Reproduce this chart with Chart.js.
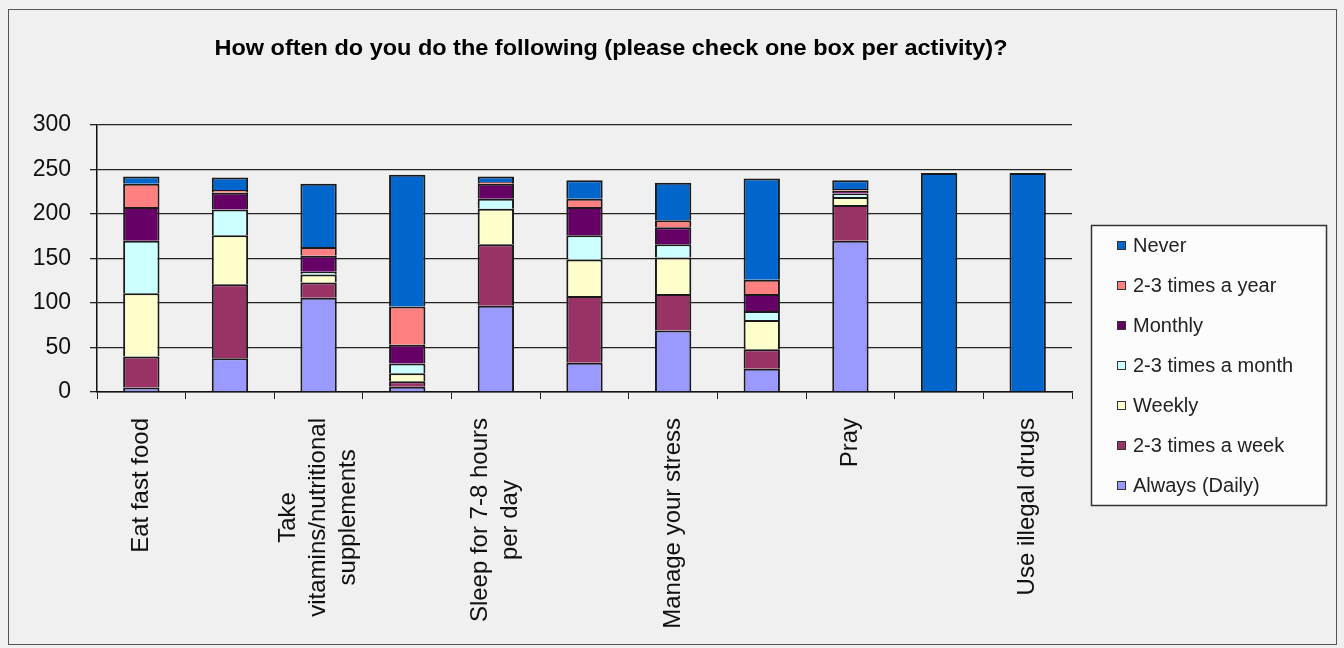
<!DOCTYPE html>
<html>
<head>
<meta charset="utf-8">
<script src="https://cdn.jsdelivr.net/npm/chart.js@4.4.1/dist/chart.umd.min.js"></script>
<style>
    html, body { margin: 0; padding: 0; background: #f0f0f0; }
    #wrap { width: 1344px; height: 648px; }
</style>
</head>
<body>
<div id="wrap"><canvas id="barcanvas" width="1344" height="648"></canvas></div>
<script>
// categories (Excel only printed every other label)
var categories = [
    ['Eat fast food'],
    [''],
    ['Take', 'vitamins/nutritional', 'supplements'],
    [''],
    ['Sleep for 7-8 hours', 'per day'],
    [''],
    ['Manage your stress'],
    [''],
    ['Pray'],
    [''],
    ['Use illegal drugs']
];
var seriesNames = ['Always (Daily)', '2-3 times a week', 'Weekly', '2-3 times a month', 'Monthly', '2-3 times a year', 'Never'];
var always = [5, 38, 106, 6, 97, 33, 69, 26, 170, null, null];
var timesWeek = [35, 83, 17, 6, 69, 75, 41, 22, 40, null, null];
var weekly = [71, 55, 9, 9, 40, 41, 41, 33, 9, null, null];
var timesMonth = [59, 29, 3, 11, 11, 27, 15, 10, 4, null, null];
var monthly = [38, 19, 18, 21, 17, 32, 19, 19, 3, null, null];
var timesYear = [26, 3, 10, 43, 2, 9, 8, 16, 2, null, null];
var never = [8, 14, 71, 148, 6, 21, 42, 114, 10, 246, 246];
var yTicks = [0, 50, 100, 150, 200, 250, 300];
var chartTitle = 'How often do you do the following (please check one box per activity)?';

var seriesValues = [always, timesWeek, weekly, timesMonth, monthly, timesYear, never];
var seriesColors = ['#9999ff', '#993366', '#ffffcc', '#ccffff', '#660066', '#ff8080', '#0066cc'];

var datasets = seriesNames.map((name, i) => {
    return {
        label: name,
        data: seriesValues[i],
        backgroundColor: seriesColors[i],
        borderColor: '#1a1a1a',
        borderWidth: 2,
        barPercentage: 0.41,
        categoryPercentage: 1.0
    };
});

var barChartData = {
    labels: categories,
    datasets: datasets
};

// background, frame, title, rotated x labels and boxed legend
var excelLook = {
    id: 'excelLook',
    beforeDraw: (chart) => {
        var ctx = chart.ctx;
        ctx.save();
        ctx.fillStyle = '#f0f0f0';
        ctx.fillRect(0, 0, chart.width, chart.height);
        ctx.strokeStyle = '#555';
        ctx.lineWidth = 1;
        ctx.strokeRect(8.5, 9.5, 1328, 635);
        ctx.restore();
    },
    afterDraw: (chart) => {
        var ctx = chart.ctx;
        var xScale = chart.scales.x;
        ctx.save();

        // title squeezed to the width Excel gave it
        ctx.fillStyle = '#000';
        ctx.font = 'bold 22px Arial, "Liberation Sans", sans-serif';
        ctx.textAlign = 'center';
        ctx.textBaseline = 'middle';
        var tw = ctx.measureText(chartTitle).width;
        ctx.save();
        ctx.translate(611, 49);
        ctx.scale(793 / tw, 1);
        ctx.fillText(chartTitle, 0, 0);
        ctx.restore();

        // category labels, read bottom to top, lines centred on each other
        ctx.font = '24px Arial, "Liberation Sans", sans-serif';
        ctx.fillStyle = '#111';
        var lineStep = 30;
        categories.forEach((lines, i) => {
            var cx = xScale.getPixelForValue(i);
            var maxW = 0;
            lines.forEach((l) => { maxW = Math.max(maxW, ctx.measureText(l).width); });
            ctx.save();
            ctx.translate(cx, xScale.top + 26);
            ctx.rotate(-Math.PI / 2);
            ctx.textAlign = 'center';
            ctx.textBaseline = 'middle';
            lines.forEach((l, j) => {
                ctx.fillText(l, -maxW / 2, (j - (lines.length - 1) / 2) * lineStep);
            });
            ctx.restore();
        });

        // legend box
        var lx = 1091, ly = 225, lw = 235, lh = 280;
        ctx.fillStyle = '#fcfcfc';
        ctx.fillRect(lx, ly, lw, lh);
        ctx.strokeStyle = '#333';
        ctx.lineWidth = 1.5;
        ctx.strokeRect(lx + 0.5, ly + 0.5, lw, lh);
        ctx.lineWidth = 1;
        ctx.font = '20px Arial, "Liberation Sans", sans-serif';
        ctx.textAlign = 'left';
        ctx.textBaseline = 'middle';
        for (var k = 0; k < seriesNames.length; k++) {
            var idx = seriesNames.length - 1 - k;
            var iy = 245 + k * 40;
            ctx.fillStyle = seriesColors[idx];
            ctx.fillRect(1117, iy - 4, 9, 9);
            ctx.strokeStyle = '#333';
            ctx.strokeRect(1117.5, iy - 3.5, 8, 8);
            ctx.fillStyle = '#222';
            ctx.fillText(seriesNames[idx], 1133, iy + 1);
        }
        ctx.restore();
    }
};

var options = {
    responsive: false,
    animation: false,
    layout: {
        padding: { left: 10, top: 125, right: 272, bottom: 16 }
    },
    plugins: {
        legend: { display: false },
        title: { display: false },
        tooltip: { enabled: false }
    },
    scales: {
        x: {
            stacked: true,
            offset: true,
            grid: {
                offset: true,
                drawOnChartArea: false,
                drawTicks: true,
                tickLength: 7,
                color: '#222'
            },
            border: { color: '#111', width: 1.5 },
            ticks: {
                autoSkip: false,
                maxRotation: 0,
                color: 'rgba(0,0,0,0)',
                callback: () => ''
            },
            afterFit: (scale) => { scale.height = 240; }
        },
        y: {
            stacked: true,
            min: 0,
            max: 300,
            afterBuildTicks: (scale) => {
                scale.ticks = yTicks.map((v) => { return { value: v }; });
            },
            grid: {
                color: '#222',
                lineWidth: 1.3,
                tickLength: 7
            },
            border: { color: '#111', width: 1.5 },
            ticks: {
                padding: 19,
                color: '#111',
                font: { family: 'Arial, "Liberation Sans", sans-serif', size: 23 }
            },
            afterFit: (scale) => { scale.width = 87; }
        }
    }
};

document.addEventListener("DOMContentLoaded", () => {
    var ctx1 = document.getElementById("barcanvas").getContext("2d");
    window.myBar = new Chart(ctx1, {
        type: 'bar',
        data: barChartData,
        options: options,
        plugins: [excelLook]
    });
});
</script>
</body>
</html>
